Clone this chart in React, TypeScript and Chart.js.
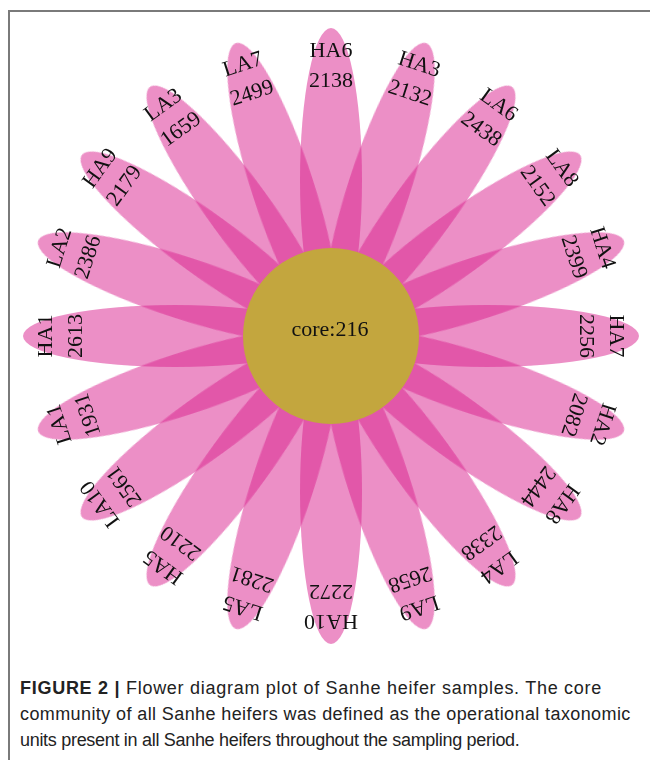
import React, { useEffect, useRef } from "react";
import { Chart, registerables } from "chart.js";

Chart.register(...registerables);

// ---- data ----
const samples = ["HA6", "HA3", "LA6", "LA8", "HA4", "HA7", "HA2", "HA8", "LA4", "LA9", "HA10", "LA5", "HA5", "LA10", "LA1", "HA1", "LA2", "HA9", "LA3", "LA7"];
const otuCounts = [2138, 2132, 2438, 2152, 2399, 2256, 2082, 2444, 2338, 2658, 2272, 2281, 2210, 2561, 1931, 2613, 2386, 2179, 1659, 2499];
const coreLabel = "core";
const coreCount = 216;

// ---- geometry / style ----
const PETAL_DIST = 156; // petal ellipse centre distance from flower centre (px units)
const PETAL_A = 152; // semi-major
const PETAL_B = 31; // semi-minor
const CORE_R = 88;
const NAME_R = 285;
const COUNT_R = 255;
const PETAL_FILL = "rgba(217,31,141,0.5)";
const CORE_FILL = "rgb(195,166,62)";
const W = 640;
const H = 648;
const CX = 321;
const CY = 324;

function makePetalImage(): HTMLCanvasElement {
  const c = document.createElement("canvas");
  c.width = PETAL_B * 2 + 2;
  c.height = PETAL_A * 2 + 2;
  const g = c.getContext("2d")!;
  g.fillStyle = PETAL_FILL;
  g.beginPath();
  g.ellipse(c.width / 2, c.height / 2, PETAL_B, PETAL_A, 0, 0, Math.PI * 2);
  g.fill();
  return c;
}

const labelPlugin = {
  id: "petalLabels",
  afterDatasetsDraw(chart: any) {
    const { ctx } = chart;
    const xs = chart.scales.x;
    const ys = chart.scales.y;
    const n = samples.length;
    ctx.save();
    ctx.fillStyle = "#111";
    ctx.font = '22px "Liberation Serif", "Times New Roman", serif';
    ctx.textAlign = "center";
    ctx.textBaseline = "middle";
    samples.forEach((s, i) => {
      const th = (i * 2 * Math.PI) / n;
      const place = (r: number, text: string) => {
        const px = xs.getPixelForValue(r * Math.sin(th));
        const py = ys.getPixelForValue(r * Math.cos(th));
        ctx.save();
        ctx.translate(px, py);
        ctx.rotate(th);
        ctx.fillText(text, 0, 0);
        ctx.restore();
      };
      place(NAME_R, s);
      place(COUNT_R, String(otuCounts[i]));
    });
    ctx.textBaseline = "alphabetic";
    ctx.fillText(`${coreLabel}:${coreCount}`, xs.getPixelForValue(-1), ys.getPixelForValue(0));
    ctx.restore();
  },
};

function FlowerChart() {
  const ref = useRef<HTMLCanvasElement>(null);
  useEffect(() => {
    if (!ref.current) return;
    const n = samples.length;
    const step = 360 / n;
    const petalPoints = samples.map((_, i) => {
      const th = (i * step * Math.PI) / 180;
      return { x: PETAL_DIST * Math.sin(th), y: PETAL_DIST * Math.cos(th) };
    });
    const img = makePetalImage();
    const chart = new Chart(ref.current, {
      type: "scatter",
      data: {
        datasets: [
          {
            label: "core",
            data: [{ x: 0, y: 0 }],
            pointStyle: "circle",
            pointRadius: CORE_R,
            pointHoverRadius: CORE_R,
            backgroundColor: CORE_FILL,
            borderWidth: 0,
            pointBorderWidth: 0,
            clip: false,
            order: 0,
          } as any,
          {
            label: "petals",
            data: petalPoints,
            pointStyle: img as any,
            pointRadius: 10,
            pointRotation: samples.map((_, i) => i * step),
            clip: false,
            order: 1,
          } as any,
        ],
      },
      options: {
        animation: false,
        responsive: false,
        events: [],
        layout: { padding: 0, autoPadding: false },
        plugins: { legend: { display: false }, tooltip: { enabled: false } },
        scales: {
          x: { type: "linear", min: -CX, max: W - CX, display: false },
          y: { type: "linear", min: -(H - CY), max: CY, display: false },
        },
      },
      plugins: [labelPlugin],
    });
    return () => chart.destroy();
  }, []);
  return <canvas ref={ref} width={W} height={H} style={{ display: "block", width: W, height: H }} />;
}

export default function App() {
  const capStyle: React.CSSProperties = {
    fontFamily: '"Liberation Sans", Arial, sans-serif',
    fontSize: 18,
    lineHeight: "26px",
    color: "#222",
    whiteSpace: "nowrap",
  };
  return (
    <div
      style={{
        position: "absolute",
        left: 8,
        top: 10,
        width: 642,
        height: 750,
        borderLeft: "2px solid #7a7a7a",
        borderTop: "2px solid #7a7a7a",
        boxSizing: "border-box",
      }}
    >
      <FlowerChart />
      <div style={{ position: "absolute", left: 10, top: 663, ...capStyle }}>
        <div style={{ letterSpacing: "0.72px" }}>
          <b>FIGURE 2 |</b> Flower diagram plot of Sanhe heifer samples. The core
        </div>
        <div style={{ letterSpacing: "0.4px" }}>community of all Sanhe heifers was defined as the operational taxonomic</div>
        <div style={{ letterSpacing: "-0.3px" }}>units present in all Sanhe heifers throughout the sampling period.</div>
      </div>
    </div>
  );
}
